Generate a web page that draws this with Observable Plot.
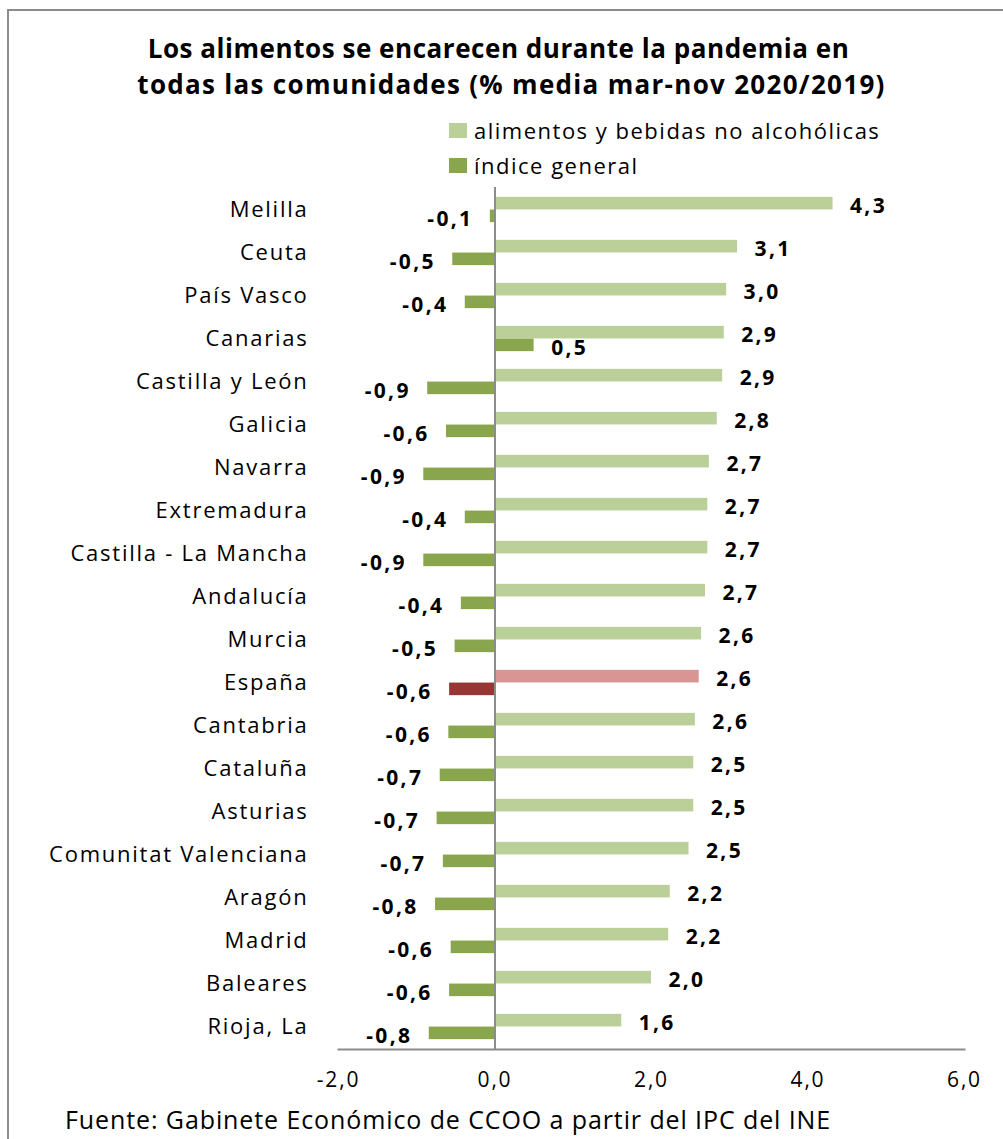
<!DOCTYPE html>
<html>
<head>
<meta charset="utf-8">
<script src="https://cdn.jsdelivr.net/npm/d3@7"></script>
<script src="https://cdn.jsdelivr.net/npm/@observablehq/plot@0.6"></script>
<style>
  html, body { margin: 0; padding: 0; background: #fff; }
  #wrap { position: relative; width: 1003px; height: 1139px; overflow: hidden; background: #fff; }
  #border { position: absolute; left: 7px; top: 9px; width: 1100px; height: 1200px; border-top: 2px solid #8c8c8c; border-left: 2px solid #8c8c8c; }
  #title { position: absolute; left: 0; width: 1003px; top: 30px; text-align: center; font-family: "Open Sans", sans-serif; font-weight: 700; font-size: 26px; line-height: 36px; color: #000; padding-left: 10px; white-space: nowrap; }
  #title span { display: block; position: relative; }
  .leg { position: absolute; left: 449px; font-family: "Open Sans", sans-serif; font-size: 22px; letter-spacing: 1.5px; color: #000; display: flex; align-items: center; line-height: 28px; }
  .sw { width: 18px; height: 15px; margin-right: 7px; }
  #source { position: absolute; left: 65px; top: 1102px; font-family: "Open Sans", sans-serif; font-size: 25px; letter-spacing: 0.9px; color: #000; white-space: nowrap; }
  #chart { position: absolute; left: 0; top: 0; }
  #chart svg g[aria-label="y-axis tick label"] text { letter-spacing: 1.75px; }
  #chart svg g[aria-label="x-axis tick label"] text { letter-spacing: 1.8px; }
  #chart svg g[aria-label="text"] text { letter-spacing: 2.3px; }
</style>
</head>
<body>
<div id="wrap">
  <div id="border"></div>
  <div id="title"><span style="letter-spacing:0.55px; left:-13px">Los alimentos se encarecen durante la pandemia en</span><span style="letter-spacing:1.3px">todas las comunidades (% media mar-nov 2020/2019)</span></div>
  <div class="leg" style="top:116px"><div class="sw" style="background:#BBD098"></div>alimentos y bebidas no alcohólicas</div>
  <div class="leg" style="top:151px"><div class="sw" style="background:#89A64E"></div>índice general</div>
  <div id="chart"></div>
  <div id="source">Fuente: Gabinete Económico de CCOO a partir del IPC del INE</div>
</div>
<script>
const regions = ["Melilla","Ceuta","País Vasco","Canarias","Castilla y León","Galicia","Navarra","Extremadura","Castilla - La Mancha","Andalucía","Murcia","España","Cantabria","Cataluña","Asturias","Comunitat Valenciana","Aragón","Madrid","Baleares","Rioja, La"];
const alimentos = [4.32,3.10,2.96,2.93,2.91,2.84,2.74,2.72,2.72,2.69,2.64,2.61,2.56,2.54,2.54,2.48,2.24,2.22,2.00,1.62];
const general = [-0.06,-0.54,-0.38,0.50,-0.86,-0.62,-0.91,-0.38,-0.91,-0.43,-0.51,-0.58,-0.59,-0.70,-0.74,-0.66,-0.76,-0.56,-0.58,-0.84];
const xTicks = [-2,0,2,4,6];

const seriesColors = {alimentos: "#BBD098", general: "#89A64E"};
const highlight = "España";
const highlightColors = {alimentos: "#D99594", general: "#963735"};

const data = [];
regions.forEach((r, i) => {
  data.push({region: r, series: "alimentos", value: alimentos[i]});
  data.push({region: r, series: "general", value: general[i]});
});
data.forEach(d => d.color = d.region === highlight ? highlightColors[d.series] : seriesColors[d.series]);

const fmt = v => v.toFixed(1).replace(".", ",");

const W = 1003, H = 1139;
const mTop = 187, mBottom = H - 1049, mLeft = 338, mRight = W - 964;
const bw = (H - mTop - mBottom) / regions.length;
const barH = 12.7;
const half = bw / 2;

const A = data.filter(d => d.series === "alimentos");
const G = data.filter(d => d.series === "general");

const plot = Plot.plot({
  width: W,
  height: H,
  marginTop: mTop,
  marginBottom: mBottom,
  marginLeft: mLeft,
  marginRight: mRight,
  style: {fontFamily: "'Open Sans', sans-serif", background: "transparent", color: "#000"},
  x: {domain: [-2, 6], ticks: xTicks, tickFormat: fmt, label: null},
  y: {domain: regions, padding: 0, label: null},
  color: {type: "identity"},
  marks: [
    Plot.barX(A, {x: "value", y: "region", fill: "color", insetTop: half - barH, insetBottom: half}),
    Plot.barX(G, {x: "value", y: "region", fill: "color", insetTop: half, insetBottom: half - barH}),
    Plot.ruleX([0], {stroke: "#8c8c8c", strokeWidth: 2}),
    Plot.frame({anchor: "bottom", stroke: "#8c8c8c", strokeWidth: 2}),
    Plot.text(A.filter(d => d.value >= 0), {x: "value", y: "region", text: d => fmt(d.value), textAnchor: "start", dx: 17, dy: -4, fontSize: 21, fontWeight: 700, fill: "#000"}),
    Plot.text(G.filter(d => d.value >= 0), {x: "value", y: "region", text: d => fmt(d.value), textAnchor: "start", dx: 17, dy: 9, fontSize: 21, fontWeight: 700, fill: "#000"}),
    Plot.text(G.filter(d => d.value < 0), {x: "value", y: "region", text: d => fmt(d.value), textAnchor: "end", dx: -17, dy: 9, fontSize: 21, fontWeight: 700, fill: "#000"}),
    Plot.axisX({ticks: xTicks, tickFormat: fmt, tickSize: 0, tickPadding: 23, fontSize: 21, label: null}),
    Plot.axisY({tickSize: 0, tickPadding: 30, fontSize: 22, label: null})
  ]
});
document.getElementById("chart").appendChild(plot);
</script>
</body>
</html>
